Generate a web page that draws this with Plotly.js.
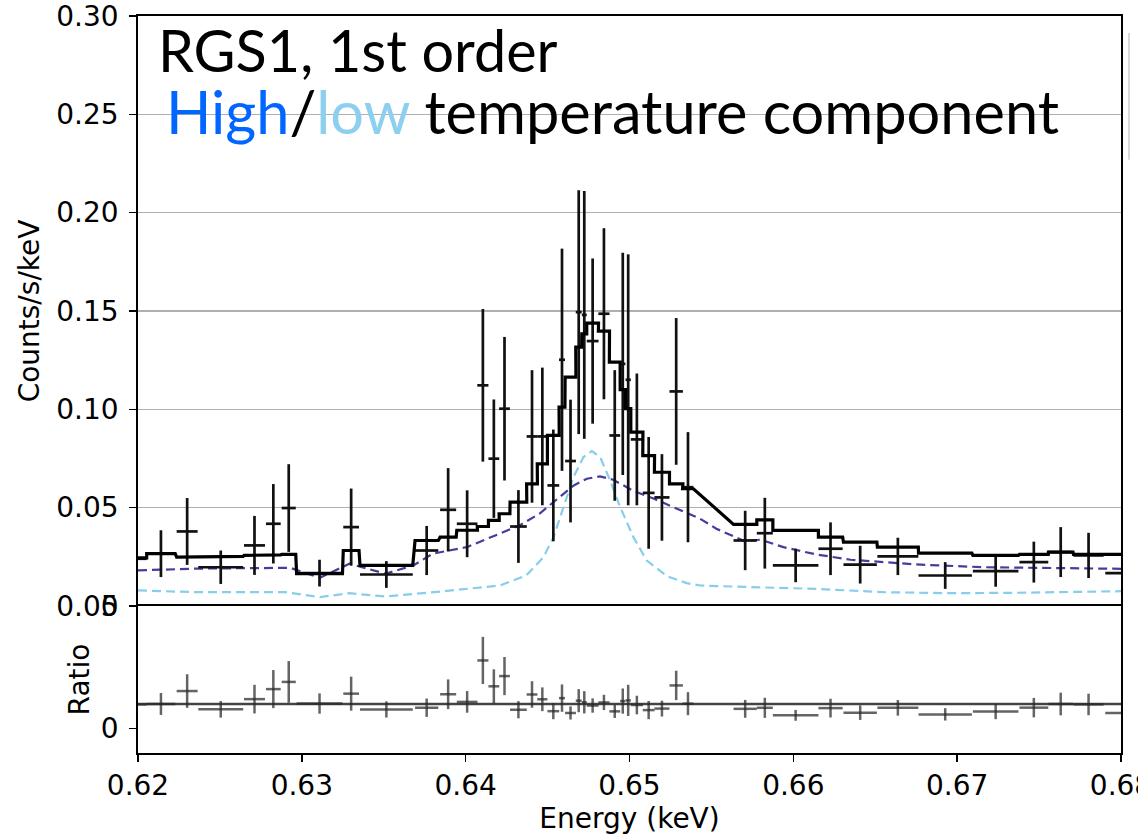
<!DOCTYPE html>
<html><head><meta charset="utf-8">
<script src="https://cdn.plot.ly/plotly-3.0.1.min.js"></script>
<style>html,body{margin:0;padding:0;background:#fff;} #chart{width:1138px;height:835px;}</style>
</head><body><div id="chart"></div>
<script>
// ---- data ----
const energy = [0.61980,0.62140,0.62300,0.62505,0.62711,0.62826,0.62920,0.63108,0.63301,0.63516,
  0.63762,0.63893,0.64009,0.64105,0.64172,0.64237,0.64322,0.64405,0.64468,0.64535,
  0.64588,0.64640,0.64690,0.64724,0.64775,0.64844,0.64910,0.64959,0.64992,0.65045,
  0.65117,0.65198,0.65285,0.65357,0.65706,0.65826,0.66014,0.66227,0.66408,0.66638,
  0.66927,0.67235,0.67468,0.67632,0.67802,0.68050];
const halfWidth = [0.00073,0.00087,0.00064,0.00137,0.00064,0.00045,0.00043,0.00140,0.00048,0.00161,
  0.00071,0.00049,0.00063,0.00034,0.00033,0.00033,0.00051,0.00033,0.00031,0.00036,
  0.00018,0.00033,0.00018,0.00015,0.00036,0.00034,0.00033,0.00016,0.00016,0.00037,
  0.00036,0.00046,0.00041,0.00033,0.00071,0.00049,0.00139,0.00074,0.00102,0.00125,
  0.00163,0.00139,0.00088,0.00075,0.00092,0.00146];
const counts = [0.0240,0.0266,0.0379,0.0197,0.0308,0.0418,0.0498,0.0167,0.0401,0.0160,
  0.0282,0.0489,0.0418,0.1122,0.0749,0.1003,0.0404,0.0862,0.0862,0.0613,
  0.1252,0.0737,0.1494,0.1480,0.1347,0.1486,0.0867,0.1231,0.1150,0.0847,
  0.0575,0.0552,0.1091,0.0604,0.0333,0.0370,0.0206,0.0291,0.0210,0.0252,
  0.0155,0.0177,0.0223,0.0274,0.0257,0.0167];
const countsErr = [0.0105,0.0119,0.0170,0.0085,0.0150,0.0202,0.0223,0.0068,0.0196,0.0068,
  0.0125,0.0212,0.0170,0.0388,0.0301,0.0365,0.0185,0.0337,0.0350,0.0284,
  0.0565,0.0312,0.0620,0.0630,0.0420,0.0435,0.0332,0.0565,0.0638,0.0335,
  0.0284,0.0220,0.0373,0.0280,0.0151,0.0180,0.0085,0.0134,0.0096,0.0095,
  0.0068,0.0079,0.0104,0.0127,0.0115,0.0080];
const model = [0.0245,0.0266,0.0248,0.0252,0.0257,0.0260,0.0262,0.0164,0.0282,0.0206,
  0.0333,0.0350,0.0385,0.0404,0.0435,0.0469,0.0528,0.0621,0.0723,0.0867,
  0.1011,0.1164,0.1316,0.1384,0.1438,0.1398,0.1240,0.1100,0.1003,0.0884,
  0.0765,0.0680,0.0621,0.0596,0.0415,0.0438,0.0384,0.0350,0.0325,0.0299,
  0.0269,0.0257,0.0262,0.0274,0.0262,0.0262];

const hotE = [0.6200,0.6236,0.6293,0.6311,0.6329,0.6351,0.6368,0.6380,0.6401,0.6421,0.6433,0.6445,
  0.6456,0.6466,0.6474,0.6482,0.6490,0.6502,0.6515,0.6527,0.6543,0.6553,0.6570,0.6580,0.6594,
  0.6614,0.6635,0.6655,0.6675,0.6716,0.6757,0.6800];
const hotModel = [0.0181,0.0190,0.0194,0.0143,0.0215,0.0164,0.0206,0.0266,0.0300,0.0367,0.0410,0.0469,
  0.0545,0.0613,0.0647,0.0659,0.0642,0.0587,0.0545,0.0503,0.0444,0.0393,0.0330,0.0337,0.0299,
  0.0262,0.0235,0.0223,0.0211,0.0197,0.0192,0.0189];

const coolE = [0.6200,0.6236,0.6290,0.6311,0.6329,0.6351,0.6378,0.6401,0.6421,0.6437,0.64475,0.64536,
  0.64597,0.64658,0.64719,0.6477,0.64821,0.64882,0.64943,0.65024,0.65105,0.65228,0.6535,0.65431,
  0.6574,0.6614,0.6655,0.6696,0.6736,0.6800];
const coolModel = [0.0079,0.0070,0.0070,0.0045,0.0065,0.0048,0.0068,0.0087,0.0104,0.0155,0.0248,0.0350,
  0.0503,0.0655,0.0757,0.0787,0.0757,0.0638,0.0503,0.0350,0.0231,0.0152,0.0116,0.0104,
  0.0096,0.0087,0.0070,0.0065,0.0067,0.0075];

const xTicks = [0.62,0.63,0.64,0.65,0.66,0.67,0.68];
const xTickLabels = ['0.62','0.63','0.64','0.65','0.66','0.67','0.68'];
const yTicks = [0,0.05,0.10,0.15,0.20,0.25,0.30];
const ratioTicks = [0,5];

// ---- derived tables ----
const stepX = [], stepY = [], ratioStepY = [];
energy.forEach((e,i)=>{
  stepX.push(e-halfWidth[i], e+halfWidth[i]);
  stepY.push(model[i], model[i]);
  ratioStepY.push(model[i]/model[i], model[i]/model[i]);
});
const ratio = counts.map((c,i)=>c/model[i]);
const ratioErr = countsErr.map((c,i)=>c/model[i]);

const tickFont = {family:'DejaVu Sans', size:28, color:'#000'};
const traces = [
  {x:coolE, y:coolModel, xaxis:'x2', yaxis:'y2', mode:'lines', line:{color:'#87CEEB', width:2.2, dash:'9px,5px'}, hoverinfo:'skip'},
  {x:hotE, y:hotModel, xaxis:'x2', yaxis:'y2', mode:'lines', line:{color:'#473C9C', width:2.2, dash:'9px,5px'}, hoverinfo:'skip'},
  {x:energy, y:counts, xaxis:'x2', yaxis:'y2', mode:'markers', marker:{size:1, color:'rgba(0,0,0,0)'},
    error_x:{type:'data', array:halfWidth, thickness:2.7, width:0, color:'#111'},
    error_y:{type:'data', array:countsErr, thickness:2.7, width:0, color:'#111'}},
  {x:stepX, y:stepY, xaxis:'x2', yaxis:'y2', mode:'lines', line:{color:'#000', width:3.2}},
  {x:stepX, y:ratioStepY, xaxis:'x', yaxis:'y', mode:'lines', line:{color:'#444', width:2.6}},
  {x:energy, y:ratio, xaxis:'x', yaxis:'y', mode:'markers', marker:{size:1, color:'rgba(0,0,0,0)'},
    error_x:{type:'data', array:halfWidth, thickness:2.5, width:0, color:'rgba(40,40,40,0.72)'},
    error_y:{type:'data', array:ratioErr, thickness:2.5, width:0, color:'rgba(40,40,40,0.72)'}}
];

const split = 0.1995;
const layout = {
  width:1138, height:835,
  margin:{l:138, r:17, t:16, b:82},
  paper_bgcolor:'#fff', plot_bgcolor:'#fff',
  showlegend:false,
  font:tickFont,
  xaxis:{domain:[0,1], anchor:'y', range:[0.62,0.68], tickmode:'array', tickvals:xTicks, ticktext:xTickLabels,
    ticks:'outside', ticklen:7, tickwidth:1.6, tickcolor:'#000', tickfont:tickFont, ticklabeloverflow:'allow',
    showline:true, linecolor:'#000', linewidth:1.8, mirror:true, showgrid:false, zeroline:false,
    title:{text:'Energy (keV)', font:tickFont, standoff:8}},
  xaxis2:{domain:[0,1], anchor:'y2', side:'top', matches:'x', range:[0.62,0.68], showticklabels:false, ticks:'',
    showline:true, linecolor:'#000', linewidth:1.8, mirror:false, showgrid:false, zeroline:false},
  yaxis:{domain:[0,split], anchor:'x', range:[-1.0,5.0], tickmode:'array', tickvals:ratioTicks, ticktext:['0','5'],
    ticks:'outside', ticklen:7, tickwidth:1.6, tickcolor:'#000', tickfont:tickFont, ticklabelstandoff:5,
    showline:true, linecolor:'#000', linewidth:1.8, mirror:true, showgrid:false, zeroline:false,
    title:{text:'Ratio', font:tickFont, standoff:3}},
  yaxis2:{domain:[split,1], anchor:'x2', range:[0,0.30], tickmode:'array', tickvals:yTicks, tickformat:'.2f',
    ticks:'outside', ticklen:7, tickwidth:1.6, tickcolor:'#000', tickfont:tickFont, ticklabelstandoff:5, ticklabeloverflow:'allow',
    showline:true, linecolor:'#000', linewidth:1.8, mirror:true, showgrid:true, gridcolor:'#b0b0b0', gridwidth:1.5, zeroline:false,
    title:{text:'Counts/s/keV', font:tickFont, standoff:8}},
  annotations:[
    {xref:'paper', yref:'paper', x:0.0183, y:0.9545, xanchor:'left', yanchor:'middle', showarrow:false,
      text:'RGS1, 1st order', font:{family:'Lato', size:57.5, color:'#000'}},
    {xref:'paper', yref:'paper', x:0.0265, y:0.8705, xanchor:'left', yanchor:'middle', showarrow:false,
      text:'<span style="color:#0066FF">High</span>/<span style="color:#8DCFEF">low</span> temperature component',
      font:{family:'Lato', size:59.5, color:'#000'}}
  ],
  shapes:[
    {type:'line', xref:'paper', yref:'paper', x0:1.0081, x1:1.0081, y0:0.805, y1:0.977, line:{color:'#d8d8d8', width:2}}
  ]
};

Plotly.newPlot('chart', traces, layout, {displayModeBar:false, staticPlot:true});
</script>
</body></html>
